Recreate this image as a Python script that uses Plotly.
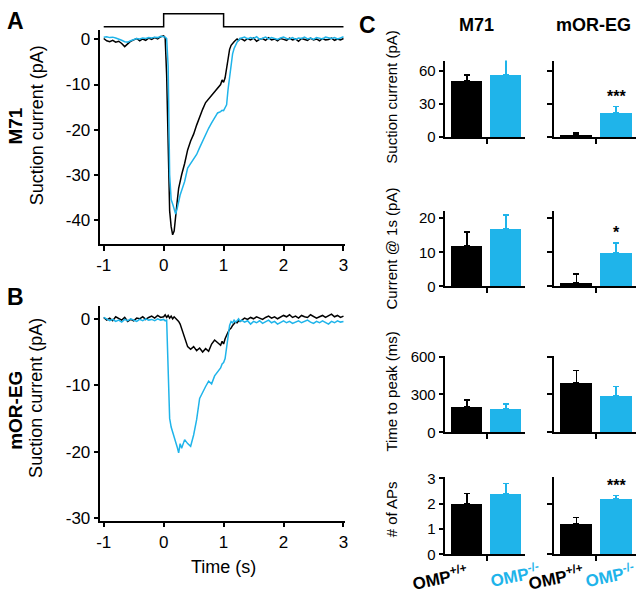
import plotly.graph_objects as go

W, H = 640, 599
BLACK = "#000000"
CYAN = "#1FB4EA"
FONT = "Liberation Sans, Arial, sans-serif"

# ---------------- traces (panels A & B) ----------------
t = [-1.00, -0.95, -0.90, -0.85, -0.80, -0.75, -0.70, -0.65, -0.60, -0.55,
     -0.50, -0.45, -0.40, -0.35, -0.30, -0.25, -0.20, -0.15, -0.10, -0.05,
     0.000, 0.025, 0.050, 0.075, 0.100, 0.125, 0.150, 0.175, 0.200, 0.225, 0.250, 0.275,
     0.30, 0.35, 0.40, 0.45, 0.50, 0.55, 0.60, 0.65, 0.70, 0.75, 0.80, 0.85, 0.90,
     0.950, 0.975, 1.000, 1.025, 1.050, 1.075, 1.100, 1.125, 1.150, 1.175, 1.200, 1.225, 1.250, 1.275,
     1.30, 1.35, 1.40, 1.45, 1.50, 1.55, 1.60, 1.65, 1.70, 1.75,
     1.80, 1.85, 1.90, 1.95, 2.00, 2.05, 2.10, 2.15, 2.20, 2.25,
     2.30, 2.35, 2.40, 2.45, 2.50, 2.55, 2.60, 2.65, 2.70, 2.75,
     2.80, 2.85, 2.90, 2.95, 3.00]

m71_wt_trace = [0.2, -0.3, -0.5, -0.2, -0.6, -0.4, -0.9, -1.6, -1.0, -0.4,
                -0.1, 0.2, -0.3, 0.1, -0.2, 0.3, 0.0, 0.4, 0.1, 0.6,
                0.8, 0.3, -8.0, -25.0, -38.0, -41.5, -43.3, -42.5, -39.8, -36.0, -33.0, -31.0,
                -30.0, -27.5, -24.5, -22.5, -21.0, -19.0, -17.0, -15.5, -14.0, -13.2, -12.3, -11.5, -10.6,
                -10.0, -9.0, -9.5, -8.5, -6.0, -3.5, -2.2, -1.3, -0.8, -0.5, -0.2, 0.1, -0.2, 0.2,
                0.1, -0.3, 0.2, -0.1, 0.3, -0.4, 0.0, 0.2, -0.2, 0.4,
                -0.1, 0.1, -0.3, 0.2, 0.0, -0.2, 0.3, -0.1, 0.1, -0.4,
                0.2, 0.0, -0.2, 0.3, -0.1, 0.1, -0.3, 0.2, -0.1, 0.0,
                0.3, -0.2, 0.1, -0.1, 0.2]

m71_ko_trace = [0.5, 0.6, 0.4, 0.5, 0.3, 0.1, -0.2, -0.5, -0.6, -0.3,
                0.0, 0.2, 0.1, 0.3, 0.2, 0.4, 0.3, 0.5, 0.4, 0.7,
                0.6, 0.5, 0.2, -6.0, -30.0, -35.5, -36.5, -37.5, -38.7, -37.5, -35.5, -34.5,
                -33.5, -31.5, -28.5, -27.5, -26.5, -25.5, -24.0, -22.5, -21.0, -19.7, -18.5, -17.3, -16.3,
                -16.0, -15.7, -15.8, -15.2, -14.5, -11.0, -8.0, -5.0, -3.2, -2.0, -1.2, -0.6, -0.2, 0.2,
                0.3, 0.5, 0.1, 0.4, 0.2, 0.6, 0.0, 0.3, 0.5, 0.1,
                0.4, 0.2, 0.0, 0.3, 0.5, 0.2, 0.1, 0.4, 0.0, 0.3,
                0.2, 0.5, 0.1, 0.3, 0.0, 0.4, 0.2, 0.1, 0.5, 0.3,
                0.2, 0.4, 0.1, 0.3, 0.6]

eg_wt_trace = [0.2, -0.2, 0.1, -0.3, 0.3, 0.0, -0.2, 0.2, -0.4, -0.1,
               -0.3, 0.1, 0.0, 0.3, -0.1, 0.2, 0.4, 0.1, 0.5, 0.2,
               0.3, 0.6, 0.2, 0.5, 0.1, 0.4, 0.0, 0.3, 0.1, -0.2, -0.4, -0.8,
               -1.5, -3.0, -4.2, -4.6, -4.2, -4.8, -4.4, -5.0, -4.5, -4.9, -3.8, -3.2, -3.6,
               -4.0, -3.4, -3.8, -3.0, -2.4, -2.0, -1.6, -1.4, -1.0, -0.8, -0.5, -0.6, -0.3, -0.4,
               -0.2, 0.1, -0.1, 0.2, 0.0, 0.3, 0.1, -0.1, 0.2, 0.4,
               0.1, 0.3, 0.0, 0.2, 0.5, 0.3, 0.6, 0.2, 0.4, 0.1,
               0.5, 0.3, 0.2, 0.6, 0.4, 0.1, 0.3, 0.5, 0.2, 0.4,
               0.7, 0.3, 0.5, 0.2, 0.4]

eg_ko_trace = [0.2, 0.0, -0.3, -0.1, -0.4, -0.2, -0.5, -0.1, -0.3, 0.0,
               -0.2, -0.4, -0.1, -0.3, 0.0, -0.2, -0.1, -0.3, 0.0, -0.2,
               -0.1, -0.3, -0.2, -8.0, -15.0, -16.3, -17.0, -17.8, -18.5, -19.3, -20.2, -18.8,
               -19.5, -18.2, -18.8, -19.2, -17.5, -15.2, -12.0, -11.0, -10.2, -9.4, -9.8, -8.6, -8.0,
               -7.4, -6.8, -6.6, -6.0, -4.0, -2.0, -1.0, -0.4, -0.6, -0.2, -0.5, -0.3, 0.0, -0.4,
               -0.2, -0.5, -0.3, -0.8, -0.4, -0.6, -0.3, -0.7, -0.5, -0.2,
               -0.6, -0.4, -0.8, -0.5, -0.3, -0.6, -0.4, -0.7, -0.5, -0.3,
               -0.6, -0.4, -0.2, -0.5, -0.7, -0.4, -0.6, -0.3, -0.5, -0.8,
               -0.4, -0.6, -0.3, -0.5, -0.4]

# odor stimulus step
stim_t = [-1, 0, 0, 1, 1, 3]
stim_v = [0, 0, 1, 1, 0, 0]

# ---------------- bar summary (panel C) ----------------
metric_labels = ["Suction current (pA)", "Current @ 1s (pA)", "Time to peak (ms)", "# of APs"]
m71_wt = [51, 12, 200, 2.0]
m71_wt_err = [5, 4, 55, 0.4]
m71_ko = [56, 17, 190, 2.4]
m71_ko_err = [14, 4, 35, 0.4]
eg_wt = [2, 1, 390, 1.2]
eg_wt_err = [1.7, 2.7, 100, 0.25]
eg_ko = [22, 10, 290, 2.2]
eg_ko_err = [5.5, 2.7, 75, 0.12]
eg_sig = ["***", "*", "", "***"]
left_ticks = [[0, 30, 60], [0, 10, 20], [0, 300, 600], [0, 1, 2, 3]]
right_ticks = [[0, 30, 60], [0, 10, 20], [0, 300, 600], [0, 2]]
row_ranges = [[0, 69], [0, 22.2], [0, 607], [0, 3.06]]


def dx(a, b):
    return [a / W, b / W]


def dy(top, bottom):
    return [1 - bottom / H, 1 - top / H]


def fx(px):
    return px / W


def fy(px):
    return 1 - px / H


fig = go.Figure()
layout = dict(
    width=W, height=H, margin=dict(l=0, r=0, t=0, b=0),
    paper_bgcolor="white", plot_bgcolor="white", showlegend=False,
    font=dict(family=FONT, color="black"),
)

axline = dict(showline=True, linecolor="black", linewidth=1.5, ticks="outside",
              ticklen=5, tickwidth=1.5, tickcolor="black", showgrid=False, zeroline=False)

# Panel A
layout["xaxis"] = dict(axline, domain=dx(97.7, 345), range=[-1.054, 3.02], anchor="y",
                       tickvals=[-1, 0, 1, 2, 3], ticktext=["-1", "0", "1", "2", "3"],
                       tickfont=dict(size=17))
layout["yaxis"] = dict(axline, domain=dy(23, 242.7), range=[-45.4, 2.0], anchor="x",
                       tickvals=[0, -10, -20, -30, -40], ticktext=["0", "-10", "-20", "-30", "-40"],
                       tickfont=dict(size=17))
# Panel B
layout["xaxis2"] = dict(axline, domain=dx(97.7, 345), range=[-1.054, 3.02], anchor="y2",
                        tickvals=[-1, 0, 1, 2, 3], ticktext=["-1", "0", "1", "2", "3"],
                        tickfont=dict(size=17))
layout["yaxis2"] = dict(axline, domain=dy(306, 526.7), range=[-30.4, 1.95], anchor="x2",
                        tickvals=[0, -10, -20, -30], ticktext=["0", "-10", "-20", "-30"],
                        tickfont=dict(size=17))
# Stimulus
layout["xaxis3"] = dict(domain=dx(97.7, 345), range=[-1.054, 3.02], anchor="y3", visible=False)
layout["yaxis3"] = dict(domain=dy(4, 21), range=[-0.135, 1.135], anchor="x3", visible=False)

fig.add_trace(go.Scatter(x=t, y=m71_wt_trace, mode="lines", line=dict(color=BLACK, width=1.5),
                         xaxis="x", yaxis="y"))
fig.add_trace(go.Scatter(x=t, y=m71_ko_trace, mode="lines", line=dict(color=CYAN, width=1.5),
                         xaxis="x", yaxis="y"))
fig.add_trace(go.Scatter(x=t, y=eg_wt_trace, mode="lines", line=dict(color=BLACK, width=1.5),
                         xaxis="x2", yaxis="y2"))
fig.add_trace(go.Scatter(x=t, y=eg_ko_trace, mode="lines", line=dict(color=CYAN, width=1.5),
                         xaxis="x2", yaxis="y2"))
fig.add_trace(go.Scatter(x=stim_t, y=stim_v, mode="lines", line=dict(color=BLACK, width=1.5),
                         xaxis="x3", yaxis="y3"))

# Panel C
rows_px = [(54, 132.5), (208.3, 286), (357.3, 436), (481.7, 561.3)]
cols_px = [(447, 528), (557, 640)]
annotations = []
axn = 4
for r in range(4):
    top, bot = rows_px[r]
    for c in range(2):
        xa = "xaxis%d" % axn
        ya = "yaxis%d" % axn
        xr = "x%d" % axn
        yr = "y%d" % axn
        layout[xa] = dict(axline, domain=dx(*cols_px[c]), range=[-0.56, 1.5], anchor=yr,
                          tickvals=[0.5], showticklabels=False)
        tv = left_ticks[r] if c == 0 else right_ticks[r]
        layout[ya] = dict(axline, domain=dy(top, bot), range=row_ranges[r], anchor=xr,
                          tickvals=tv, ticktext=[str(v) for v in tv],
                          showticklabels=(c == 0), tickfont=dict(size=15))
        if c == 0:
            vals = [m71_wt[r], m71_ko[r]]
            errs = [m71_wt_err[r], m71_ko_err[r]]
        else:
            vals = [eg_wt[r], eg_ko[r]]
            errs = [eg_wt_err[r], eg_ko_err[r]]
        for i, col in enumerate([BLACK, CYAN]):
            fig.add_trace(go.Bar(x=[i], y=[vals[i]], width=0.81, marker=dict(color=col, line=dict(width=0)),
                                 error_y=dict(type="data", symmetric=False, array=[errs[i]],
                                              arrayminus=[0], color=col, thickness=1.5, width=3),
                                 xaxis=xr, yaxis=yr))
        if c == 1 and eg_sig[r]:
            annotations.append(dict(x=1, y=eg_ko[r] + eg_ko_err[r], xref=xr, yref=yr,
                                    text="<b>%s</b>" % eg_sig[r], showarrow=False,
                                    yanchor="bottom", yshift=0, font=dict(size=16, color="black")))
        axn += 1

# C axis titles
c_title_y = [92, 247, 394, 515]
for r in range(4):
    annotations.append(dict(x=fx(392), y=fy(c_title_y[r]), xref="paper", yref="paper",
                            text=metric_labels[r], textangle=-90, showarrow=False,
                            xanchor="center", yanchor="middle", font=dict(size=15)))

# Column titles & panel letters
text_items = [
    ("<b>M71</b>", 478, 17, 18, "black", 0),
    ("<b>mOR-EG</b>", 597, 17, 18, "black", 0),
    ("<b>A</b>", 12, 13, 23, "black", 0),
    ("<b>B</b>", 12, 297, 23, "black", 0),
    ("<b>C</b>", 368, 17, 23, "black", 0),
    ("<b>M71</b>", 12, 121, 19, "black", -90),
    ("Suction current (pA)", 33, 121, 18, "black", -90),
    ("<b>mOR-EG</b>", 12, 413, 19, "black", -90),
    ("Suction current (pA)", 33, 401, 18, "black", -90),
    ("Time (s)", 222, 574, 18, "black", 0),
    ("<b>OMP<sup>+/+</sup></b>", 442, 585, 17, "black", -12),
    ("<b>OMP<sup>-/-</sup></b>", 517, 583, 17, CYAN, -12),
    ("<b>OMP<sup>+/+</sup></b>", 559, 585, 17, "black", -12),
    ("<b>OMP<sup>-/-</sup></b>", 614, 583, 17, CYAN, -12),
]
for txt, x, y, size, color, ang in text_items:
    annotations.append(dict(x=fx(x), y=fy(y), xref="paper", yref="paper", text=txt,
                            textangle=ang, showarrow=False, xanchor="center", yanchor="middle",
                            font=dict(size=size, color=color)))

layout["annotations"] = annotations
layout["bargap"] = 0
fig.update_layout(**layout)
fig.write_html("out.html", config={"displayModeBar": False},
               post_script="document.body.style.margin='0px';document.body.style.overflow='hidden';")
